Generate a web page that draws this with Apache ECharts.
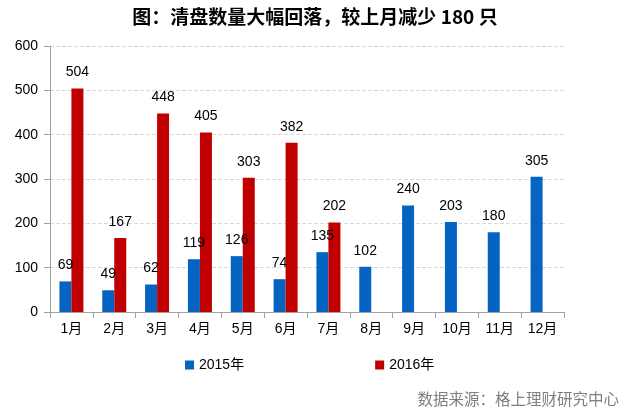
<!DOCTYPE html>
<html><head><meta charset="utf-8">
<script src="https://cdn.jsdelivr.net/npm/echarts@6/dist/echarts.min.js"></script>
<style>html,body{margin:0;padding:0;background:#fff}#c{width:630px;height:410px}</style>
</head><body><div id="c"></div>
<script>
var categories = ['1月','2月','3月','4月','5月','6月','7月','8月','9月','10月','11月','12月'];
var s2015 = [69,49,62,119,126,74,135,102,240,203,180,305];
var s2016 = [504,167,448,405,303,382,202,null,null,null,null,null];
var yTicks = [0,100,200,300,400,500,600];
var titleText = '图：清盘数量大幅回落，较上月减少 180 只';
var sourceText = '数据来源：格上理财研究中心';

var chart = echarts.init(document.getElementById('c'));
var lblFont = {fontFamily:'Liberation Sans, Arial, sans-serif', fontSize:14, color:'#000'};
chart.setOption({
  animation:false,
  title:[{text:titleText,left:'center',top:2,textStyle:{fontFamily:'Noto Sans CJK SC, serif',fontSize:19,fontWeight:'bold',color:'#000'}},
         {text:sourceText,right:6,top:386,textStyle:{fontFamily:'Noto Sans CJK SC, sans-serif',fontSize:15.5,fontWeight:'normal',color:'#7f7f7f'}}],
  legend:{data:['2015年','2016年'],left:180,top:353,itemWidth:9,itemHeight:9,itemGap:131,icon:'rect',
    textStyle:{fontFamily:'Liberation Sans, Noto Sans CJK SC, sans-serif',fontSize:14,color:'#000'}},
  grid:{left:50,right:66,top:46,bottom:98,containLabel:false},
  xAxis:{type:'category',data:categories,
    axisLine:{lineStyle:{color:'#a0a0a0'}},
    axisTick:{show:true,alignWithLabel:false,length:6,inside:false,lineStyle:{color:'#a0a0a0'}},
    axisLabel:{fontFamily:'Liberation Sans, Noto Sans CJK SC, sans-serif',fontSize:14,color:'#000',margin:10}},
  yAxis:{type:'value',min:0,max:600,interval:100,
    axisLine:{show:true,lineStyle:{color:'#a0a0a0'}},
    axisTick:{show:true,length:6,lineStyle:{color:'#a0a0a0'}},
    axisLabel:{fontFamily:'Liberation Sans, Arial, sans-serif',fontSize:14,color:'#000',margin:12},
    splitLine:{lineStyle:{color:'#d9d9d9',type:'dashed'}}},
  series:[
    {name:'2015年',type:'bar',data:s2015,barWidth:12,barGap:'0%',itemStyle:{color:'#0563C1'},
     label:{show:true,position:'top',distance:9,...lblFont}},
    {name:'2016年',type:'bar',data:s2016,barWidth:12,barGap:'0%',itemStyle:{color:'#C00000'},
     label:{show:true,position:'top',distance:9,...lblFont}}
  ]
});
</script></body></html>
